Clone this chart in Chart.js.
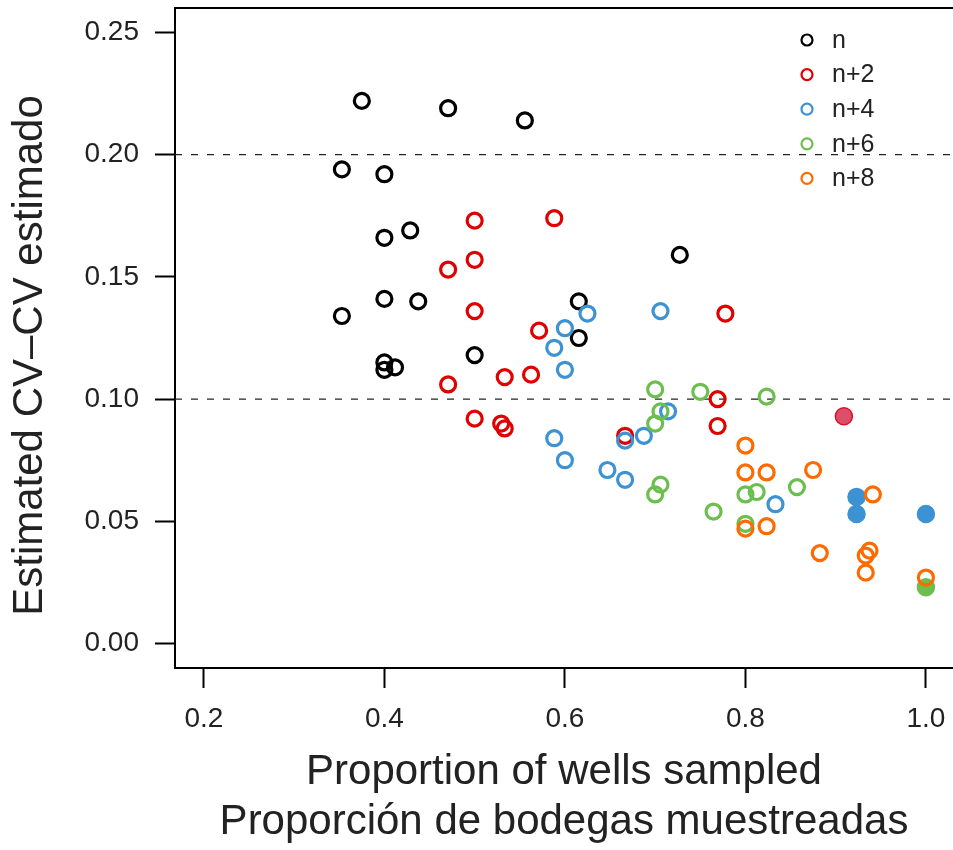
<!DOCTYPE html>
<html>
<head>
<meta charset="utf-8">
<script src="https://cdn.jsdelivr.net/npm/chart.js@4.4.1/dist/chart.umd.min.js"></script>
<style>
  body { margin: 0; background: #fff; }
  #wrap { width: 953px; height: 850px; }
</style>
</head>
<body>
<div id="wrap"><canvas id="chart" width="953" height="850"></canvas></div>
<script>
// Proportion of wells sampled (x) vs estimated CV (y), per group
const nX  = [0.375, 0.4706, 0.5556, 0.3529, 0.4, 0.4, 0.4286, 0.4, 0.4375, 0.3529, 0.6154, 0.6154, 0.5, 0.4, 0.4, 0.4118, 0.7273];
const nY  = [0.222, 0.219, 0.214, 0.194, 0.192, 0.166, 0.169, 0.141, 0.140, 0.134, 0.140, 0.125, 0.118, 0.115, 0.112, 0.113, 0.159];

const n2X = [0.5, 0.5882, 0.5, 0.4706, 0.5, 0.5714, 0.4706, 0.5333, 0.5625, 0.5, 0.5294, 0.5333, 0.6667, 0.7778, 0.7692, 0.7692];
const n2Y = [0.173, 0.174, 0.157, 0.153, 0.136, 0.128, 0.106, 0.109, 0.110, 0.092, 0.090, 0.088, 0.085, 0.135, 0.100, 0.089];
const n2SolidX = [0.9091];
const n2SolidY = [0.093];

const n4X = [0.625, 0.6, 0.5882, 0.6, 0.7059, 0.7143, 0.5882, 0.6, 0.6471, 0.6667, 0.6667, 0.6875, 0.8333];
const n4Y = [0.135, 0.129, 0.121, 0.112, 0.136, 0.095, 0.084, 0.075, 0.071, 0.067, 0.083, 0.085, 0.057];
const n4SolidX = [0.9231, 0.9231, 1.0];
const n4SolidY = [0.060, 0.053, 0.053];

const n6X = [0.7, 0.75, 0.8235, 0.7059, 0.7, 0.7059, 0.7, 0.8, 0.8125, 0.8571, 0.7647, 0.8];
const n6Y = [0.104, 0.103, 0.101, 0.095, 0.090, 0.065, 0.061, 0.061, 0.062, 0.064, 0.054, 0.049];
const n6SolidX = [1.0];
const n6SolidY = [0.023];

const n8X = [0.8, 0.8, 0.8235, 0.875, 0.9412, 0.8, 0.8235, 0.8824, 0.9375, 0.9333, 0.9333, 1.0];
const n8Y = [0.081, 0.070, 0.070, 0.071, 0.061, 0.047, 0.048, 0.037, 0.038, 0.036, 0.029, 0.027];

// dashed reference levels
const refLevels = [0.1, 0.2];

const xTicks = [0.2, 0.4, 0.6, 0.8, 1.0];
const yTicks = [0.00, 0.05, 0.10, 0.15, 0.20, 0.25];

const legendLabels = ['n', 'n+2', 'n+4', 'n+6', 'n+8'];
const groupColors = ['#000000', '#e00000', '#3c92d2', '#6cbe4e', '#ff6a00'];

const X_MIN = 0.168, X_MAX = 1.03;
const Y_MIN = -0.01, Y_MAX = 0.26;
const FONT = '"Liberation Sans", Arial, sans-serif';

function pts(xs, ys) {
    return xs.map((x, i) => ({ x: x, y: ys[i] }));
}

function openSet(xs, ys, color, order) {
    return {
        data: pts(xs, ys),
        pointRadius: 7.5,
        pointBorderWidth: 3.2,
        pointBorderColor: color,
        pointBackgroundColor: 'rgba(0,0,0,0)',
        order: order
    };
}

function solidSet(xs, ys, fill, border, order) {
    return {
        data: pts(xs, ys),
        pointRadius: 8.5,
        pointBorderWidth: 1.5,
        pointBorderColor: border,
        pointBackgroundColor: fill,
        order: order
    };
}

const datasets = [];
refLevels.forEach(v => {
    datasets.push({
        data: [{ x: X_MIN, y: v }, { x: X_MAX, y: v }],
        showLine: true,
        borderColor: '#222222',
        borderWidth: 1.3,
        borderDash: [7, 9],
        pointRadius: 0,
        order: 100
    });
});
datasets.push(openSet(nX, nY, groupColors[0], 50));
datasets.push(openSet(n2X, n2Y, groupColors[1], 41));
datasets.push(solidSet(n2SolidX, n2SolidY, '#dc4f6b', '#e0102a', 40));
datasets.push(openSet(n4X, n4Y, groupColors[2], 31));
datasets.push(solidSet(n4SolidX, n4SolidY, groupColors[2], groupColors[2], 30));
datasets.push(solidSet(n6SolidX, n6SolidY, groupColors[3], groupColors[3], 21));
datasets.push(openSet(n6X, n6Y, groupColors[3], 20));
datasets.push(openSet(n8X, n8Y, groupColors[4], 10));

// top edge of the plot box (R style box, right side falls off the canvas)
const boxTop = {
    id: 'boxTop',
    afterDraw(chart) {
        const a = chart.chartArea;
        const ctx = chart.ctx;
        ctx.save();
        ctx.strokeStyle = '#000';
        ctx.lineWidth = 2;
        ctx.beginPath();
        ctx.moveTo(a.left - 1, a.top);
        ctx.lineTo(a.right, a.top);
        ctx.stroke();
        ctx.restore();
    }
};

// legend in the top-right corner, no frame
const cornerLegend = {
    id: 'cornerLegend',
    afterDraw(chart) {
        const ctx = chart.ctx;
        ctx.save();
        ctx.font = '25px ' + FONT;
        ctx.textBaseline = 'middle';
        ctx.textAlign = 'left';
        legendLabels.forEach((lab, i) => {
            const y = 40 + i * 34.6;
            ctx.beginPath();
            ctx.arc(807, y, 5.5, 0, Math.PI * 2);
            ctx.strokeStyle = groupColors[i];
            ctx.lineWidth = 2.2;
            ctx.stroke();
            ctx.fillStyle = '#222';
            ctx.fillText(lab, 832, y + 1);
        });
        ctx.restore();
    }
};

new Chart(document.getElementById('chart'), {
    type: 'scatter',
    data: { datasets: datasets },
    plugins: [boxTop, cornerLegend],
    options: {
        responsive: false,
        animation: false,
        layout: { autoPadding: false, padding: { top: 8, left: 0, right: 0, bottom: 0 } },
        plugins: {
            legend: { display: false },
            tooltip: { enabled: false }
        },
        scales: {
            x: {
                type: 'linear',
                min: X_MIN,
                max: X_MAX,
                afterBuildTicks: s => { s.ticks = xTicks.map(v => ({ value: v })); },
                afterFit: s => { s.height = 182; s.paddingLeft = 0; s.paddingRight = 0; },
                ticks: {
                    color: '#222',
                    font: { family: FONT, size: 28 },
                    padding: 14,
                    maxRotation: 0,
                    callback: v => v.toFixed(1)
                },
                grid: {
                    drawOnChartArea: false,
                    drawTicks: true,
                    tickLength: 20,
                    tickWidth: 2,
                    tickColor: '#000'
                },
                border: { color: '#000', width: 2 },
                title: {
                    display: true,
                    text: ['Proportion of wells sampled', 'Proporción de bodegas muestreadas'],
                    color: '#222',
                    font: { family: FONT, size: 42, lineHeight: 1.2 },
                    padding: { top: 0, bottom: 2 }
                }
            },
            y: {
                type: 'linear',
                min: Y_MIN,
                max: Y_MAX,
                afterBuildTicks: s => { s.ticks = yTicks.map(v => ({ value: v })); },
                afterFit: s => { s.width = 175; s.paddingTop = 0; s.paddingBottom = 0; },
                ticks: {
                    color: '#222',
                    font: { family: FONT, size: 28 },
                    padding: 16,
                    callback: v => v.toFixed(2)
                },
                grid: {
                    drawOnChartArea: false,
                    drawTicks: true,
                    tickLength: 20,
                    tickWidth: 2,
                    tickColor: '#000'
                },
                border: { color: '#000', width: 2 },
                title: {
                    display: true,
                    text: 'Estimated CV\u2013CV estimado\u00a0\u00a0\u00a0',
                    color: '#222',
                    font: { family: FONT, size: 42, lineHeight: 1.2 },
                    padding: { top: 5, bottom: 0 }
                }
            }
        }
    }
});
</script>
</body>
</html>
